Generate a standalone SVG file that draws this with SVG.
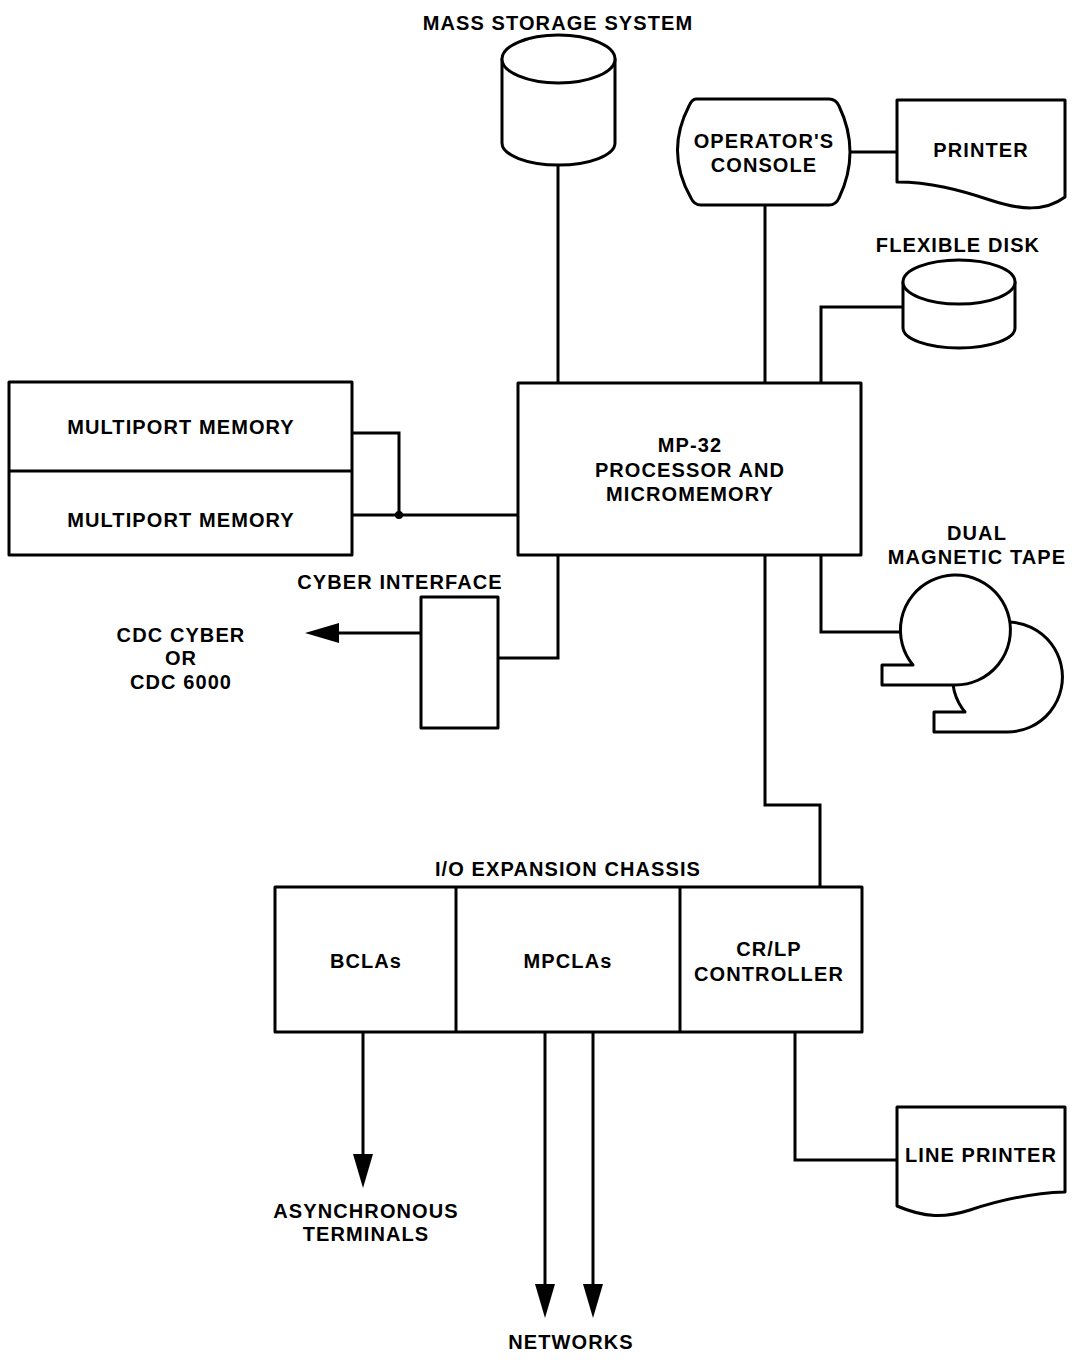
<svg xmlns="http://www.w3.org/2000/svg" width="1078" height="1364" viewBox="0 0 1078 1364">
<style>
.s{fill:#fff;stroke:#000;stroke-width:3;stroke-linejoin:round}
.c{fill:none;stroke:#000;stroke-width:3}
.t{font-family:"Liberation Sans",Arial,sans-serif;font-weight:bold;font-size:20px;letter-spacing:1.1px;fill:#000;text-anchor:middle}
</style>
<defs>
<marker id="ah" viewBox="0 -10 34 20" refX="0" refY="0" markerWidth="34" markerHeight="20" markerUnits="userSpaceOnUse" orient="auto">
<path d="M0,-10 L34,0 L0,10 Z" fill="#000"/>
</marker>
</defs>
<rect width="1078" height="1364" fill="#fff"/>

<g id="connectors">
<path class="c" d="M558,165 V383"/>
<path class="c" d="M765,205 V383"/>
<path class="c" d="M850,152 H897"/>
<path class="c" d="M903,307 H821 V383"/>
<path class="c" d="M352,433 H399 V515"/>
<path class="c" d="M352,515 H518"/>
<circle cx="399" cy="515" r="4" fill="#000"/>
<path class="c" d="M558,555 V658 H498"/>
<path class="c" d="M421,633 H339" marker-end="url(#ah)"/>
<path class="c" d="M821,555 V632 H900"/>
<path class="c" d="M765,555 V805 H820 V887"/>
<path class="c" d="M363,1032 V1154" marker-end="url(#ah)"/>
<path class="c" d="M545,1032 V1284" marker-end="url(#ah)"/>
<path class="c" d="M593,1032 V1284" marker-end="url(#ah)"/>
<path class="c" d="M795,1032 V1160 H897"/>
</g>

<g id="mass-storage">
<text class="t" x="558" y="30">MASS STORAGE SYSTEM</text>
<path class="s" d="M502,59 V143 A56.5,22 0 0 0 615,143 V59 Z"/>
<ellipse class="s" cx="558.5" cy="59" rx="56.5" ry="24"/>
</g>

<g id="console">
<path class="s" d="M696,99 L829,99 Q836,99 839,106 Q861,152 839,198 Q836,205 829,205 L701,205 Q694,205 691,198 Q665,152 689,106 Q692,99 696,99 Z"/>
<text class="t" x="764" y="148">OPERATOR'S</text>
<text class="t" x="764" y="172">CONSOLE</text>
</g>

<g id="printer">
<path class="s" d="M897,100 H1065 V197 C1045,212 1020,210 990,200 C960,190 930,182 897,182 Z"/>
<text class="t" x="981" y="157">PRINTER</text>
</g>

<g id="flexible-disk">
<text class="t" x="958" y="252">FLEXIBLE DISK</text>
<path class="s" d="M903,282 V328 A56,20 0 0 0 1015,328 V282 Z"/>
<ellipse class="s" cx="959" cy="282" rx="56" ry="22"/>
</g>

<g id="memory">
<rect class="s" x="9" y="382" width="343" height="173"/>
<line class="c" x1="9" y1="471" x2="352" y2="471"/>
<text class="t" x="181" y="434">MULTIPORT MEMORY</text>
<text class="t" x="181" y="527">MULTIPORT MEMORY</text>
</g>

<g id="processor">
<rect class="s" x="518" y="383" width="343" height="172"/>
<text class="t" x="690" y="452">MP-32</text>
<text class="t" x="690" y="477">PROCESSOR AND</text>
<text class="t" x="690" y="501">MICROMEMORY</text>
</g>

<g id="cyber-interface">
<text class="t" x="400" y="589">CYBER INTERFACE</text>
<rect class="s" x="421" y="597" width="77" height="131"/>
</g>

<g id="cdc">
<text class="t" x="181" y="642">CDC CYBER</text>
<text class="t" x="181" y="665">OR</text>
<text class="t" x="181" y="689">CDC 6000</text>
</g>

<g id="tape">
<text class="t" x="977" y="540">DUAL</text>
<text class="t" x="977" y="564">MAGNETIC TAPE</text>
<path class="s" transform="translate(52,47)" d="M913,665 A55,55 0 1 1 955,685 L882,685 L882,665 Z"/>
<path class="s" d="M913,665 A55,55 0 1 1 955,685 L882,685 L882,665 Z"/>
</g>

<g id="chassis">
<text class="t" x="568" y="876">I/O EXPANSION CHASSIS</text>
<rect class="s" x="275" y="887" width="587" height="145"/>
<line class="c" x1="456" y1="887" x2="456" y2="1032"/>
<line class="c" x1="680" y1="887" x2="680" y2="1032"/>
<text class="t" x="366" y="968">BCLAs</text>
<text class="t" x="568" y="968">MPCLAs</text>
<text class="t" x="769" y="956">CR/LP</text>
<text class="t" x="769" y="981">CONTROLLER</text>
</g>

<g id="async-terminals">
<text class="t" x="366" y="1218">ASYNCHRONOUS</text>
<text class="t" x="366" y="1241">TERMINALS</text>
</g>

<g id="networks">
<text class="t" x="571" y="1349">NETWORKS</text>
</g>

<g id="line-printer">
<path class="s" d="M897,1107 H1065 V1192 C1030,1193 1000,1200 970,1210 C945,1218 925,1218 897,1206 Z"/>
<text class="t" x="981" y="1162">LINE PRINTER</text>
</g>
</svg>
